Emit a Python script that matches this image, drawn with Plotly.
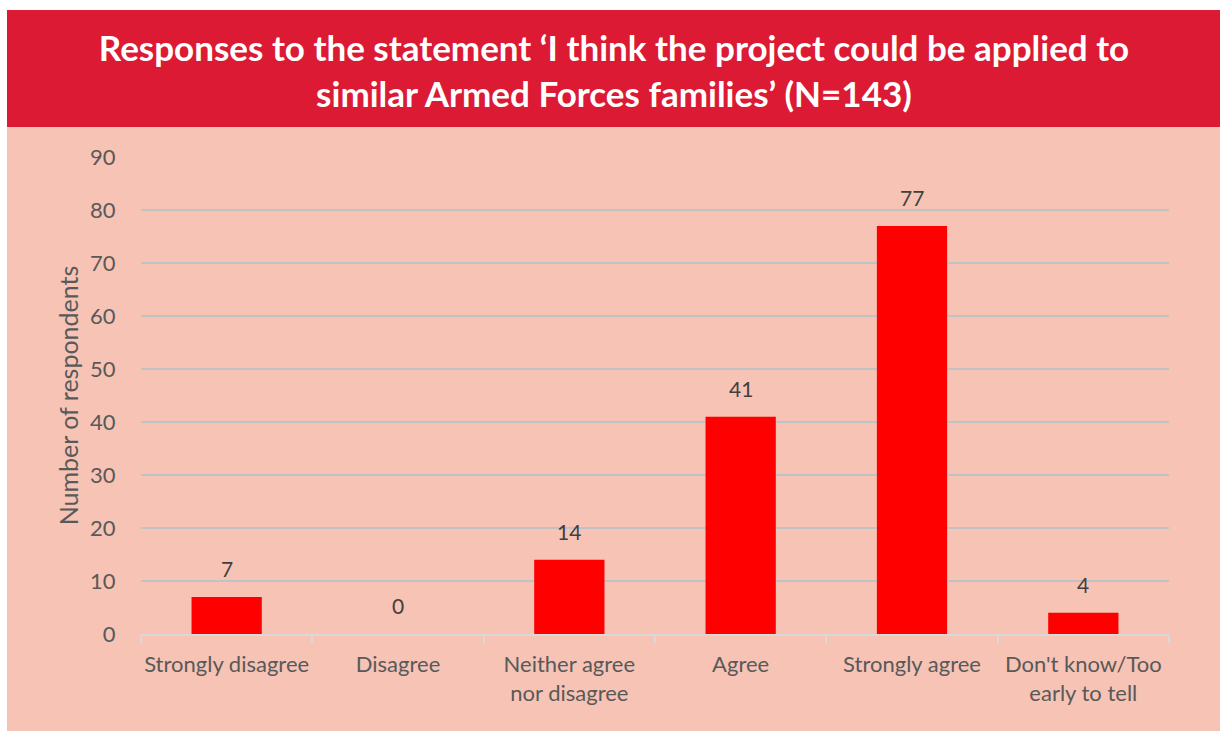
import plotly.graph_objects as go

# Survey responses
categories = [
    "Strongly disagree",
    "Disagree",
    "Neither agree<br>nor disagree",
    "Agree",
    "Strongly agree",
    "Don't know/Too<br>early to tell",
]
counts = [7, 0, 14, 41, 77, 4]
y_ticks = [0, 10, 20, 30, 40, 50, 60, 70, 80, 90]

title_text = ("Responses to the statement \u2018I think the project could be applied to<br>"
              "similar Armed Forces families\u2019 (N=143)")

W, H = 1220, 731
ML, MR, MT, MB = 141, 51, 157, 97
pw, ph = W - ML - MR, H - MT - MB


def px_x(px):
    return (px - ML) / pw


def px_y(py):
    return (H - MB - py) / ph


FONT = "Lato, Carlito, Calibri, sans-serif"
TXT = "#595959"

fig = go.Figure()
fig.add_trace(go.Bar(
    x=categories, y=counts,
    marker=dict(color="#FF0000", line=dict(width=0)),
    hoverinfo="x+y",
))

# value labels above each bar
for c, v in zip(categories, counts):
    fig.add_annotation(x=c, y=v, text=str(v), showarrow=False,
                       yanchor="bottom", yshift=14,
                       font=dict(family=FONT, size=21, color="#404040"))

# salmon panel and red header band
fig.add_shape(type="rect", xref="paper", yref="paper", layer="below",
              x0=px_x(7), x1=px_x(W + 5), y0=px_y(H + 5), y1=px_y(127),
              fillcolor="#F6C3B5", line=dict(width=0))
fig.add_shape(type="rect", xref="paper", yref="paper", layer="below",
              x0=px_x(7), x1=px_x(W + 5), y0=px_y(127), y1=px_y(10),
              fillcolor="#DC1A33", line=dict(width=0))

fig.update_layout(
    width=W, height=H,
    margin=dict(l=ML, r=MR, t=MT, b=MB, autoexpand=False),
    paper_bgcolor="white",
    plot_bgcolor="rgba(0,0,0,0)",
    bargap=0.59,
    showlegend=False,
    font=dict(family=FONT, color=TXT),
    title=dict(text=title_text, x=614 / W, xanchor="center",
               xref="container", y=1 - 61 / H, yanchor="middle", yref="container",
               font=dict(family=FONT, size=35, color="white", weight="bold")),
    xaxis=dict(
        showgrid=False, automargin=False, tickangle=0,
        showline=True, linecolor="#D9D9D9", linewidth=2,
        ticks="outside", tickson="boundaries", ticklen=7, tickcolor="#D9D9D9",
        tickwidth=2, ticklabelstandoff=10,
        tickfont=dict(family=FONT, size=22, color=TXT),
    ),
    yaxis=dict(
        range=[0, 90], tickvals=y_ticks, automargin=False,
        showgrid=True, gridcolor="#BFC3C6", gridwidth=1.5,
        zeroline=False, showline=False,
        ticks="outside", ticklen=20, tickcolor="rgba(0,0,0,0)",
        tickfont=dict(family=FONT, size=22, color=TXT),
        title=dict(text="Number of respondents", standoff=4,
                   font=dict(family=FONT, size=25, color=TXT)),
    ),
)

fig.write_html("out.html")
